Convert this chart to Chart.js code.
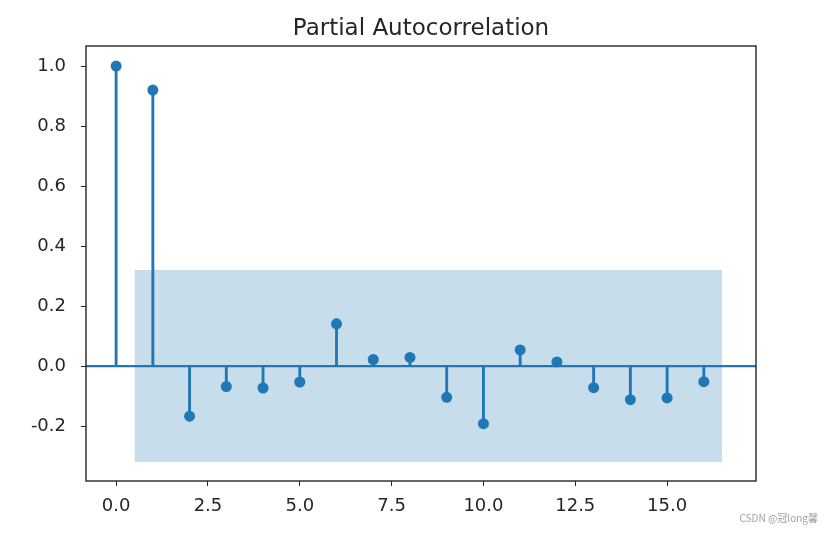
<!DOCTYPE html>
<html>
<head>
<meta charset="utf-8">
<script src="https://cdn.jsdelivr.net/npm/chart.js@4"></script>
<style>
  html, body { margin: 0; padding: 0; background: #fff; }
  #wrap { width: 833px; height: 533px; }
</style>
</head>
<body>
<div id="wrap"><canvas id="pacfChart" width="833" height="533"></canvas></div>
<script>
// PACF values per lag
const lags = [0, 1, 2, 3, 4, 5, 6, 7, 8, 9, 10, 11, 12, 13, 14, 15, 16];
const pacfValues = [1.0, 0.92, -0.167, -0.068, -0.073, -0.053, 0.141, 0.022, 0.029,
    -0.104, -0.192, 0.054, 0.014, -0.072, -0.112, -0.106, -0.052];

// confidence band
const bandLags = [0.5, 16.5];
const bandUpper = [0.32, 0.32];
const bandLower = [-0.32, -0.32];

const xTicks = [0, 2.5, 5, 7.5, 10, 12.5, 15];
const yTicks = [-0.2, 0, 0.2, 0.4, 0.6, 0.8, 1.0];
const xRange = [-0.82, 17.42];
const yRange = [-0.383, 1.067];

const blue = '#1f77b4';
const font = "'DejaVu Sans', sans-serif";

const stemPoints = lags.map((l, i) => ({ x: l, y: pacfValues[i] }));

// axes box, title centred over the plot area, watermark
const framePlugin = {
    id: 'frame',
    afterDraw(chart) {
        const { ctx, chartArea } = chart;
        ctx.save();
        ctx.strokeStyle = '#262626';
        ctx.lineWidth = 1.4;
        ctx.strokeRect(chartArea.left, chartArea.top,
            chartArea.right - chartArea.left, chartArea.bottom - chartArea.top);

        ctx.fillStyle = '#262626';
        ctx.font = "23px " + font;
        ctx.textAlign = 'center';
        ctx.textBaseline = 'alphabetic';
        ctx.fillText('Partial Autocorrelation', (chartArea.left + chartArea.right) / 2, 34.5);

        ctx.fillStyle = '#a0a0a0';
        ctx.font = "10px 'Noto Sans CJK SC', sans-serif";
        ctx.textAlign = 'right';
        ctx.textBaseline = 'middle';
        ctx.fillText('CSDN @冠long馨', 818, 518);
        ctx.restore();
    }
};

new Chart(document.getElementById('pacfChart'), {
    data: {
        datasets: [
            {
                type: 'scatter',
                data: stemPoints,
                pointRadius: 5.5,
                pointBackgroundColor: blue,
                pointBorderWidth: 0,
                order: 0
            },
            {
                type: 'bar',
                data: stemPoints,
                backgroundColor: blue,
                barThickness: 2.2,
                order: 1
            },
            {
                type: 'line',
                data: xRange.map(x => ({ x: x, y: 0 })),
                borderColor: blue,
                borderWidth: 2.2,
                pointRadius: 0,
                order: 2
            },
            {
                type: 'line',
                data: bandLags.map((x, i) => ({ x: x, y: bandUpper[i] })),
                borderWidth: 0,
                borderColor: 'rgba(0,0,0,0)',
                pointRadius: 0,
                fill: '+1',
                backgroundColor: 'rgba(31,119,180,0.25)',
                order: 3
            },
            {
                type: 'line',
                data: bandLags.map((x, i) => ({ x: x, y: bandLower[i] })),
                borderWidth: 0,
                borderColor: 'rgba(0,0,0,0)',
                pointRadius: 0,
                order: 4
            }
        ]
    },
    options: {
        responsive: false,
        animation: false,
        layout: { padding: { left: 0, right: 77, top: 46, bottom: 0 } },
        plugins: {
            legend: { display: false },
            tooltip: { enabled: false },
            title: { display: false }
        },
        scales: {
            x: {
                type: 'linear',
                offset: false,
                min: xRange[0],
                max: xRange[1],
                afterBuildTicks: s => { s.ticks = xTicks.map(v => ({ value: v })); },
                afterFit: s => { s.height = 52; },
                grid: { offset: false, drawOnChartArea: false, drawTicks: true, tickLength: 5, tickColor: '#262626' },
                border: { display: false },
                ticks: {
                    color: '#262626',
                    padding: 10,
                    maxRotation: 0,
                    font: { family: font, size: 18 },
                    callback: v => v.toFixed(1)
                }
            },
            y: {
                type: 'linear',
                min: yRange[0],
                max: yRange[1],
                afterBuildTicks: s => { s.ticks = yTicks.map(v => ({ value: v })); },
                afterFit: s => { s.width = 86; },
                grid: { drawOnChartArea: false, drawTicks: true, tickLength: 5, tickColor: '#262626' },
                border: { display: false },
                ticks: {
                    color: '#262626',
                    padding: 15,
                    font: { family: font, size: 18 },
                    callback: v => v.toFixed(1)
                }
            }
        }
    },
    plugins: [framePlugin]
});
</script>
</body>
</html>
